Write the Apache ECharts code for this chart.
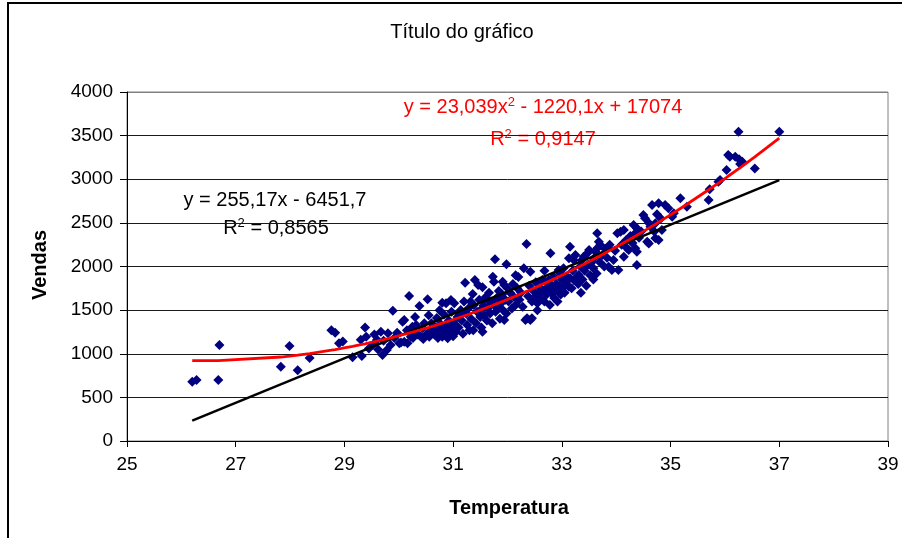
<!DOCTYPE html>
<html>
<head>
<meta charset="utf-8">
<script src="https://cdn.jsdelivr.net/npm/echarts@6/dist/echarts.min.js"></script>
<style>
html,body{margin:0;padding:0;background:#fff;}
#c{width:906px;height:538px;}
</style>
</head>
<body>
<div id="c"></div>
<script>
// ---- Data ----
const xTicks = [25, 27, 29, 31, 33, 35, 37, 39];
const yTicks = [0, 500, 1000, 1500, 2000, 2500, 3000, 3500, 4000];

const temperatura = [
  26.20,26.28,26.68,26.70,27.83,27.99,28.14,28.36,28.76,28.83,28.97,28.90,
  29.15,29.32,29.38,29.30,29.40,29.45,29.52,29.60,29.67,29.70,29.78,29.80,29.72,29.85,29.89,29.92,29.97,29.62,29.55,
  30.01,30.04,30.07,30.10,30.10,30.16,30.19,30.22,30.25,30.28,30.32,30.35,30.38,30.40,30.44,30.47,30.50,30.53,30.56,30.58,
  30.62,30.65,30.68,30.70,30.72,30.74,30.77,30.80,30.80,30.83,30.85,30.87,30.87,30.90,30.92,30.93,30.93,30.96,30.97,30.99,
  31.00,30.26,30.30,30.45,30.60,30.66,30.75,30.82,30.95,30.15,30.55,
  31.02,31.02,31.05,31.08,31.10,31.14,31.16,31.18,31.20,31.22,31.24,31.26,31.28,31.30,31.33,31.36,31.37,31.38,31.40,31.42,
  31.44,31.46,31.48,31.50,31.52,31.54,31.54,31.56,31.58,31.60,31.62,31.64,31.66,31.68,31.70,31.72,31.73,31.75,31.76,31.77,
  31.78,31.80,31.82,31.84,31.86,31.88,31.90,31.91,31.92,31.94,31.94,31.96,31.98,31.98,32.00,31.12,31.32,31.50,31.66,31.85,
  32.02,32.05,32.08,32.10,32.12,32.15,32.18,32.20,32.22,32.25,32.28,32.30,32.33,32.35,32.36,32.38,32.40,32.42,32.42,32.45,
  32.45,32.48,32.50,32.52,32.55,32.58,32.60,32.62,32.64,32.66,32.68,32.70,32.72,32.74,32.76,32.78,32.79,32.80,32.82,32.85,
  32.86,32.88,32.90,32.92,32.94,32.95,32.97,32.98,33.00,32.15,32.55,32.68,
  33.03,33.05,33.07,33.10,33.13,33.13,33.15,33.15,33.18,33.20,33.22,33.22,33.25,33.28,33.30,33.31,33.34,33.37,33.38,33.40,
  33.42,33.45,33.47,33.48,33.50,33.52,33.55,33.58,33.60,33.62,33.64,33.65,33.65,33.68,33.70,33.71,33.74,33.78,33.80,33.83,
  33.86,33.88,33.92,33.95,33.98,33.01,33.35,33.58,
  34.02,34.04,34.08,34.10,34.14,34.14,34.18,34.20,34.23,34.26,34.30,34.32,34.35,34.35,34.38,34.38,34.38,34.42,34.46,34.50,
  34.53,34.57,34.60,34.63,34.66,34.70,34.72,34.75,34.78,34.78,34.82,34.84,34.90,34.96,35.03,35.06,34.60,34.72,
  35.18,35.30,35.70,35.72,35.88,35.91,36.03,36.06,36.09,36.19,36.26,36.32,36.28,36.25,36.55,37.00
];

const vendas = [
  680,700,700,1100,850,1090,810,950,1270,1240,1140,1120,
  960,975,1300,1160,1195,1060,1100,1160,1253,985,1043,1234,1150,1100,1493,1180,1240,1050,1220,
  1120,1130,1367,1387,1138,1120,1662,1195,1310,1250,1329,1220,1547,1200,1291,1350,1215,1624,1195,1260,
  1234,1300,1291,1410,1180,1253,1340,1195,1585,1450,1230,1578,1310,1177,1380,1272,1329,1616,1480,1291,
  1200,1180,1420,1170,1350,1220,1500,1280,1230,1270,1440,
  1578,1348,1250,1420,1300,1501,1380,1230,1600,1814,1460,1330,1520,1270,1400,1685,1270,1560,1845,1350,
  1480,1788,1620,1420,1300,1761,1253,1550,1440,1650,1380,1520,1700,1460,1600,1350,1883,1826,1560,2082,
  1480,1640,1520,1720,1400,1580,1680,1826,1500,1788,1387,1620,2025,1460,1750,1450,1600,1500,1600,1650,
  1600,1700,1520,1800,1650,1560,1750,1880,1620,1700,1540,1979,1387,2258,1406,1660,1780,1940,1387,1406,
  1600,1720,1650,1820,1580,1700,1760,1640,1845,1720,1600,1826,1680,1760,1845,1560,2151,1700,1780,1883,
  1640,1720,1800,1600,1960,1769,1921,1680,1850,1900,1500,1950,
  1979,1700,1807,1880,2094,1769,2227,1864,1750,1950,2074,1845,2132,1883,1800,1902,2000,2074,1850,2113,
  1950,1780,2151,2020,2189,1900,2050,1980,2100,2170,1920,2208,2380,2285,2050,2246,2130,2000,2200,2100,
  1998,2250,1960,2074,2180,1750,1700,1850,
  2380,1960,2399,2250,2418,2113,2300,2208,2189,2350,2270,2476,2380,2208,2437,2170,2017,2330,2400,2590,
  2552,2285,2500,2456,2705,2400,2495,2600,2724,2304,2550,2418,2705,2667,2571,2609,2265,2323,
  2781,2686,2762,2884,2972,2991,3105,3278,3258,3258,3228,3201,3174,3545,3124,3545
];

// Trendline coefficients shown on the chart
const linearCoef = [255.17, -6451.7];          // y = a x + b
const polyCoef = [23.039, -1220.1, 17074];      // y = a x^2 + b x + c

const linearLabel = ['y = 255,17x - 6451,7', '0,8565'];
const polyLabel = ['y = 23,039x', ' - 1220,1x + 17074', '0,9147'];

// ---- Build ----
const n = Math.min(temperatura.length, vendas.length);
const points = [];
for (let i = 0; i < n; i++) points.push([temperatura[i], vendas[i]]);

const xsSorted = temperatura.slice(0, n).sort((a, b) => a - b);
const xMin = xsSorted[0], xMax = xsSorted[xsSorted.length - 1];
const linFn = x => linearCoef[0] * x + linearCoef[1];
const polyFn = x => polyCoef[0] * x * x + polyCoef[1] * x + polyCoef[2];
const linData = [[xMin, linFn(xMin)], [xMax, linFn(xMax)]];
const polyData = [];
const uniqX = [...new Set(xsSorted)];
uniqX.forEach(x => polyData.push([x, polyFn(x)]));

const FONT = '"Liberation Sans", Arial, sans-serif';
const chart = echarts.init(document.getElementById('c'), null, {renderer: 'canvas'});

const splitColors = yTicks.map((v, i) => i === yTicks.length - 1 ? '#808080' : '#1a1a1a');

chart.setOption({
  animation: false,
  backgroundColor: '#fff',
  grid: {
    left: 127, right: 18, top: 92, bottom: 97,
    show: true, borderColor: '#808080', borderWidth: 1, backgroundColor: 'transparent'
  },
  xAxis: {
    type: 'value',
    min: xTicks[0], max: xTicks[xTicks.length - 1], interval: xTicks[1] - xTicks[0],
    axisLine: {show: true, onZero: false, lineStyle: {color: '#000', width: 1}},
    axisTick: {show: true, length: 6, lineStyle: {color: '#000'}},
    axisLabel: {color: '#000', fontSize: 19, fontFamily: FONT, margin: 14, formatter: v => String(v)},
    splitLine: {show: false}
  },
  yAxis: {
    type: 'value',
    min: yTicks[0], max: yTicks[yTicks.length - 1], interval: yTicks[1] - yTicks[0],
    axisLine: {show: true, lineStyle: {color: '#000', width: 1}},
    axisTick: {show: true, length: 7, lineStyle: {color: '#000'}},
    axisLabel: {color: '#000', fontSize: 19, fontFamily: FONT, margin: 14, formatter: v => String(v)},
    splitLine: {show: true, lineStyle: {color: splitColors, width: 1}}
  },
  series: [
    {
      type: 'scatter', data: points, symbol: 'diamond', symbolSize: [10, 10],
      itemStyle: {color: '#000080', opacity: 1}, z: 2, silent: true
    },
    {
      type: 'line', data: linData, symbol: 'none', z: 3, silent: true,
      lineStyle: {color: '#000', width: 2.5}
    },
    {
      type: 'line', data: polyData, symbol: 'none', z: 4, silent: true, smooth: false,
      lineStyle: {color: '#ff0000', width: 2.8}
    }
  ],
  graphic: [
    {type: 'polyline', shape: {points: [[8, 540], [8, 3], [902, 3]]}, style: {stroke: '#000', lineWidth: 2, fill: null}, z: 100},
    {type: 'text', x: 462, y: 32, style: {text: 'Título do gráfico', font: '20px ' + FONT, fill: '#000', textAlign: 'center', textVerticalAlign: 'middle'}},
    {type: 'text', x: 40, y: 265, rotation: Math.PI / 2, style: {text: 'Vendas', font: 'bold 20px ' + FONT, fill: '#000', textAlign: 'center', textVerticalAlign: 'middle'}},
    {type: 'text', x: 509, y: 508, style: {text: 'Temperatura', font: 'bold 20px ' + FONT, fill: '#000', textAlign: 'center', textVerticalAlign: 'middle'}},
    {type: 'text', x: 275, y: 200, style: {text: linearLabel[0], font: '20px ' + FONT, fill: '#000', textAlign: 'center', textVerticalAlign: 'middle'}},
    {type: 'text', x: 276, y: 228, style: {
      text: '{a|R}{s|2}{a| = ' + linearLabel[1] + '}', textAlign: 'center', textVerticalAlign: 'middle',
      rich: {a: {fontSize: 20, fontFamily: FONT, fill: '#000', lineHeight: 22}, s: {fontSize: 13, fontFamily: FONT, fill: '#000', lineHeight: 13, verticalAlign: 'top'}}
    }},
    {type: 'text', x: 543, y: 107, style: {
      text: '{a|' + polyLabel[0] + '}{s|2}{a|' + polyLabel[1] + '}', textAlign: 'center', textVerticalAlign: 'middle',
      rich: {a: {fontSize: 20, fontFamily: FONT, fill: '#ff0000', lineHeight: 22}, s: {fontSize: 13, fontFamily: FONT, fill: '#ff0000', lineHeight: 13, verticalAlign: 'top'}}
    }},
    {type: 'text', x: 543, y: 139, style: {
      text: '{a|R}{s|2}{a| = ' + polyLabel[2] + '}', textAlign: 'center', textVerticalAlign: 'middle',
      rich: {a: {fontSize: 20, fontFamily: FONT, fill: '#ff0000', lineHeight: 22}, s: {fontSize: 13, fontFamily: FONT, fill: '#ff0000', lineHeight: 13, verticalAlign: 'top'}}
    }}
  ]
});
</script>
</body>
</html>
